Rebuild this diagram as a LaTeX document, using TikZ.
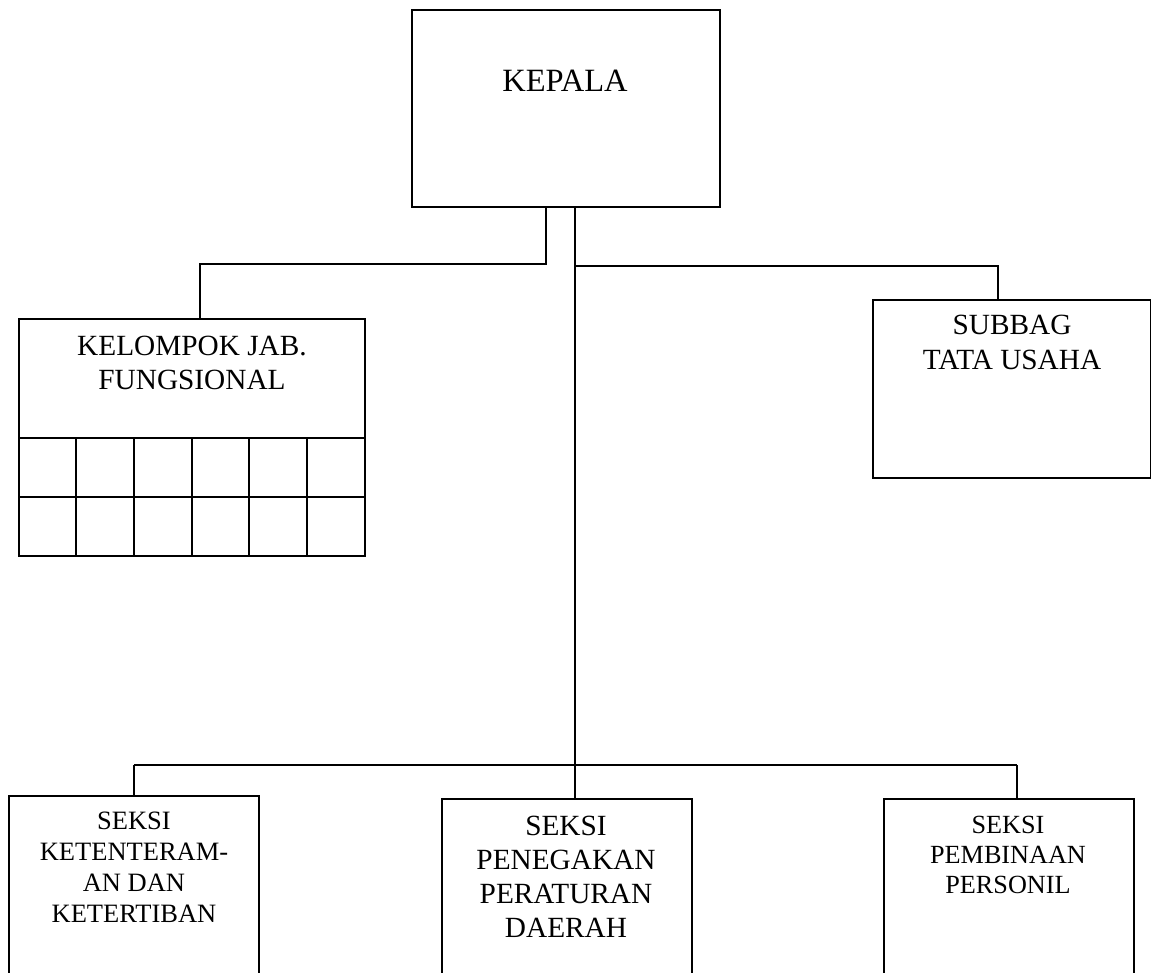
\documentclass[tikz,border=0pt]{standalone}
\usepackage{fontspec}
\setmainfont{Liberation Serif}
\begin{document}
\begin{tikzpicture}[x=1pt,y=-1pt,
  box/.style={draw, line width=2pt, inner sep=0pt, anchor=north west},
  conn/.style={line width=2pt},
  lbl/.style={inner sep=0pt, anchor=base, align=center},
  big/.style={font=\fontsize{32.5}{36}\selectfont},
  mid/.style={font=\fontsize{29.3}{34}\selectfont},
  midb/.style={font=\fontsize{29.3}{35}\selectfont},
  sml/.style={font=\fontsize{26.5}{30.7}\selectfont},
  smlr/.style={font=\fontsize{26.2}{30}\selectfont}]
\useasboundingbox (0,0) rectangle (1151,973);
\clip (0,0) rectangle (1151,973);
% boxes
\node[box, minimum width=308, minimum height=197] (kepala) at (411,9) {};
\node[box, minimum width=346, minimum height=237] (kjf) at (18,318) {};
\node[box, minimum width=278, minimum height=178] (subbag) at (872,299) {};
\node[box, minimum width=250, minimum height=220] (s1) at (8,795) {};
\node[box, minimum width=250, minimum height=220] (s2) at (441,798) {};
\node[box, minimum width=250, minimum height=220] (s3) at (883,798) {};
% grid inside kjf
\draw[conn] (18,438) -- (364,438);
\draw[conn] (18,497) -- (364,497);
\foreach \x in {76,134,192,249,307} \draw[conn] (\x,438) -- (\x,555);
% labels (base anchor = baseline of last line)
\node[lbl, big] (tkepala) at (565,92) {KEPALA};
\node[lbl, mid] (tkjf) at (192,389) {KELOMPOK JAB.\\FUNGSIONAL};
\node[lbl, midb] (tsubbag) at (1012,370) {SUBBAG\\TATA USAHA};
\node[lbl, sml] (ts1) at (134,922) {SEKSI\\KETENTERAM-\\AN DAN\\KETERTIBAN};
\node[lbl, mid] (ts2) at (566,937) {SEKSI\\PENEGAKAN\\PERATURAN\\DAERAH};
\node[lbl, smlr] (ts3) at (1008,893) {SEKSI\\PEMBINAAN\\PERSONIL};
% connectors
\coordinate (j1) at (546,264);
\coordinate (j2) at (200,264);
\coordinate (k2) at (575,266);
\coordinate (k3) at (998,266);
\coordinate (b0) at (575,765);
\coordinate (b1) at (134,765);
\coordinate (b3) at (1017,765);
\draw[conn] (kepala.south west -| j1) -- (j1) -- (j2) -- (kjf.north west -| j2);
\draw[conn] (kepala.south west -| k2) -- (b0);
\draw[conn] (k2) -- (k3) -- (subbag.north west -| k3);
\draw[conn] (b1) -- (b3);
\draw[conn] (b1) -- (s1.north west -| b1);
\draw[conn] (b0) -- (s2.north west -| b0);
\draw[conn] (b3) -- (s3.north west -| b3);
\end{tikzpicture}
\end{document}
